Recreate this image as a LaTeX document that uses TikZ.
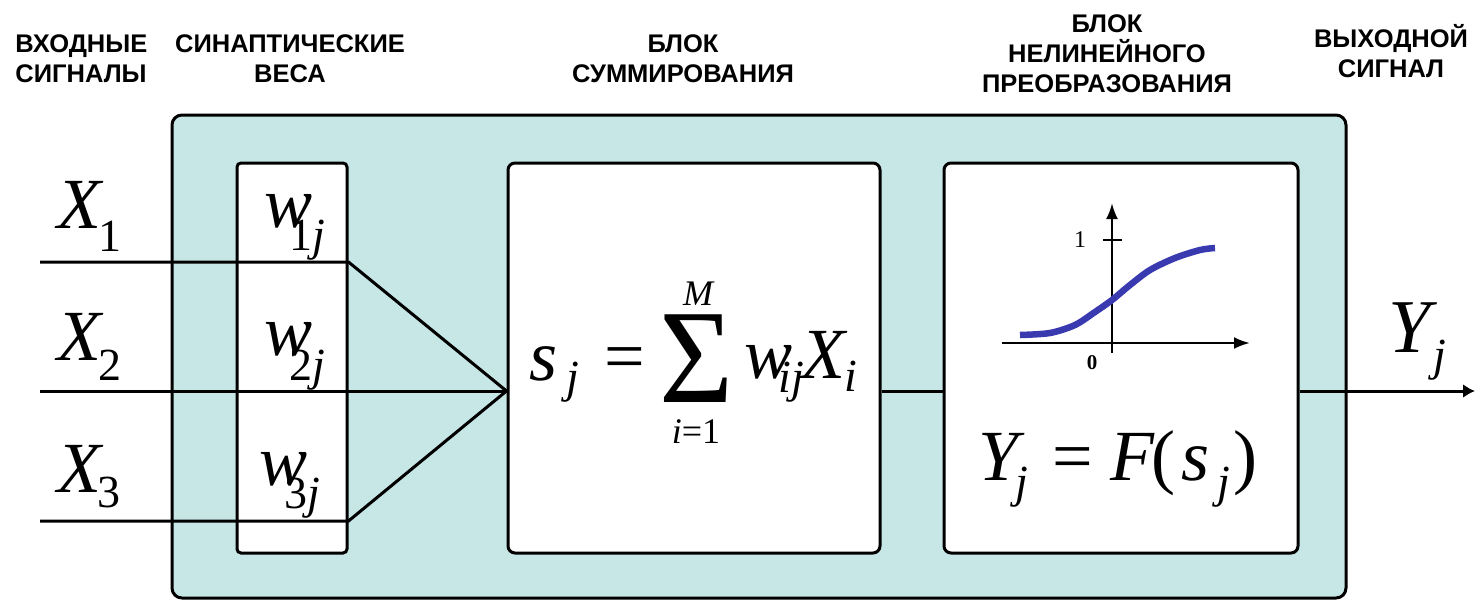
\documentclass[tikz,border=0pt]{standalone}
\usepackage{fontspec}
\usetikzlibrary{arrows.meta}

\newfontfamily\tms{Liberation Serif}
\newfontfamily\hdr{Liberation Sans}

\definecolor{cellfill}{RGB}{198,231,229}
\definecolor{curveblue}{RGB}{58,58,176}

\newcommand\mainsz{\fontsize{72}{72}\selectfont}
\newcommand\subsz{\fontsize{46}{46}\selectfont}
\newcommand\limsz{\fontsize{36}{36}\selectfont}
% letter with a lowered index: #1 letter, #2 index, #3 kern, #4 drop
\newcommand\lbl[4]{{\mainsz\itshape #1}\kern#3\raisebox{#4}{\subsz #2}}

\tikzset{every picture/.style={line width=3pt}}
\tikzset{
  blk/.style={draw, rounded corners=7pt, fill=white, inner sep=0pt},
  head/.style={font=\hdr\bfseries\fontsize{25.5}{30}\selectfont, inner sep=0pt, align=center},
  txt/.style={inner sep=0pt, anchor=base west, font=\tms},
  axis/.style={line width=2.5pt, -{Latex[length=16pt,width=12pt]}},
}

\begin{document}
\begin{tikzpicture}[x=1pt,y=1pt,yscale=-1,xscale=1]
\useasboundingbox (0,0) rectangle (1475,600);

%Shape: Rounded Rect (neuron body)
\node[blk, fill=cellfill, rounded corners=10pt, minimum width=1174pt, minimum height=483pt] (neuron) at (759,356.5) {};
%Shape: Rounded Rect (weights, sum, nonlinearity)
\node[blk, rounded corners=4pt, minimum width=110pt, minimum height=390pt] (weights) at (292,358) {};
\node[blk, minimum width=372pt, minimum height=390pt] (summer) at (694,358) {};
\node[blk, minimum width=354pt, minimum height=390pt] (nonlin) at (1121,358) {};

\coordinate (in1) at (40,262);
\coordinate (in2) at (40,391);
\coordinate (in3) at (40,521);
\coordinate (apex) at (summer.west |- in2);
\coordinate (out) at (1475,391);

%Straight Lines
\draw (in1) -- (weights.east |- in1) -- (apex);
\draw (in2) -- (apex);
\draw (in3) -- (weights.east |- in3) -- (apex);
\draw (summer.east |- in2) -- (nonlin.west |- in2);
\draw[-{Latex[length=12pt,width=14pt]}] (nonlin.east |- in2) -- (out);

% Text Node
\node[txt] (x1) at (56,228) {\lbl{X}{1}{-3pt}{-23pt}};
\node[txt] (x2) at (56,360) {\lbl{X}{2}{-3pt}{-20pt}};
\node[txt] (x3) at (56,492) {\lbl{X}{3}{-4pt}{-15pt}};
\node[txt] (w1) at (263,227) {\lbl{w}{1\itshape j}{-23pt}{-23pt}};
\node[txt] (w2) at (263,355) {\lbl{w}{2\itshape j}{-23pt}{-25pt}};
\node[txt] (w3) at (258,485) {\lbl{w}{3\itshape j}{-23pt}{-23pt}};

% Text Node
\node[txt] (sj) at (528,380) {\lbl{s}{\itshape j}{9pt}{-12pt}};
\node[txt] (eq) at (603,380) {\mainsz =};
\node[txt, anchor=base, text height=89pt, text depth=0pt] (sigma) at (697,402) {\scalebox{0.95}[1]{\fontsize{134}{134}\selectfont Σ}};
\node[txt, anchor=base] (upper) at (698,305) {\limsz\itshape M};
\node[txt, anchor=base] (lower) at (696,443) {\limsz\itshape i\upshape =1};
\node[txt] (wx) at (743,378) {\lbl{w}{\itshape ij}{-14pt}{-14pt}\kern-3pt\lbl{X}{\itshape i}{-1pt}{-13pt}};

% Text Node
\node[txt] (yf) at (977,480) {\lbl{Y}{\itshape j}{-3pt}{-17pt}\kern24pt{\mainsz =}\kern18pt{\mainsz\itshape F}\kern-3pt{\mainsz (}\kern6pt\lbl{s}{\itshape j}{8pt}{-17pt}\kern3pt{\mainsz )}};
\node[txt] (yout) at (1387,352) {\fontsize{76}{76}\selectfont\itshape Y\kern3pt\raisebox{-18pt}{\subsz j}};

%Sigmoid plot
\draw[axis] (1002,343) -- (1250,343);
\draw[axis] (1112,353) -- (1112,203);
\draw[line width=2pt] (1103,240) -- (1122,240);
\node[txt, anchor=base] (one) at (1080,247) {\fontsize{24}{24}\selectfont 1};
\node[txt, anchor=base] (zero) at (1092,369) {\fontsize{21}{21}\selectfont\bfseries 0};
\draw[curveblue, line width=6.5pt] plot[smooth] coordinates {(1020,335) (1050,333) (1075,325) (1095,312) (1112,300) (1130,285) (1150,270) (1175,258) (1200,250) (1215,248)};

% Headers
\node[head, anchor=north west, align=left] (hin) at (14,33) {ВХОДНЫЕ\\СИГНАЛЫ};
\node[head, anchor=north] (hwt) at (290,33) {СИНАПТИЧЕСКИЕ\\ВЕСА};
\node[head, anchor=north] (hsum) at (683,33) {БЛОК\\СУММИРОВАНИЯ};
\node[head, anchor=north] (hnl) at (1107,13) {БЛОК\\НЕЛИНЕЙНОГО\\ПРЕОБРАЗОВАНИЯ};
\node[head, anchor=north] (hout) at (1391,23) {ВЫХОДНОЙ\\СИГНАЛ};

\end{tikzpicture}
\end{document}
